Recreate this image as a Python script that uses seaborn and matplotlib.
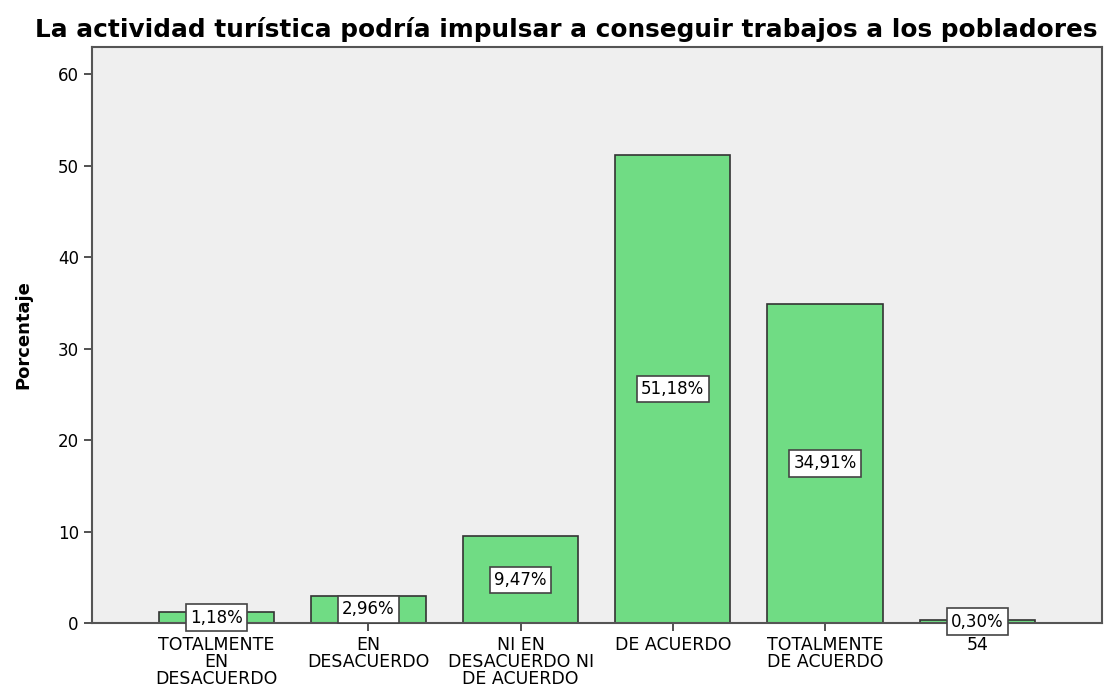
import pandas as pd
import matplotlib
matplotlib.use("Agg")
import matplotlib.pyplot as plt
import seaborn as sns

# Data
categorias = ["TOTALMENTE\nEN\nDESACUERDO", "EN\nDESACUERDO", "NI EN\nDESACUERDO NI\nDE ACUERDO",
              "DE ACUERDO", "TOTALMENTE\nDE ACUERDO", "54"]
porcentajes = [1.18, 2.96, 9.47, 51.18, 34.91, 0.30]
etiquetas = ["1,18%", "2,96%", "9,47%", "51,18%", "34,91%", "0,30%"]

df = pd.DataFrame({"cat": categorias, "pct": porcentajes})

sns.set_style("white")
plt.rcParams['font.family'] = ['DejaVu Sans']
plt.rcParams['text.color'] = 'black'
plt.rcParams['xtick.color'] = '#333333'
plt.rcParams['ytick.color'] = '#333333'
plt.rcParams['xtick.labelcolor'] = 'black'
plt.rcParams['ytick.labelcolor'] = 'black'

fig = plt.figure(figsize=(11.05, 6.86), dpi=100)
ax = fig.add_axes([92 / 1105, 1 - 623 / 686, (1102 - 92) / 1105, (623 - 47) / 686])
ax.set_facecolor("#efefef")

sns.barplot(data=df, x="cat", y="pct", color="#70dc84", saturation=1, width=0.757,
            edgecolor="#333333", linewidth=1.2, ax=ax)

# Boxed percentage labels at the middle of each bar
for i, (v, t) in enumerate(zip(porcentajes, etiquetas)):
    ax.text(i, v / 2, t, ha="center", va="center", fontsize=12, color="black",
            bbox=dict(boxstyle="square,pad=0.25", fc="white", ec="#444444", lw=1.2))

ax.set_xlim(-0.816, 5.82)
ax.set_ylim(0, 63)
ax.set_yticks([0, 10, 20, 30, 40, 50, 60])
ax.set_xlabel("")
ax.set_ylabel("Porcentaje", fontsize=13, fontweight="bold", labelpad=18, color="black")
fig.text(566 / 1105, 1 - 29 / 686,
         "La actividad turística podría impulsar a conseguir trabajos a los pobladores",
         ha="center", va="center", fontsize=17.8, fontweight="bold", color="black")

ax.tick_params(axis="both", direction="out", length=6, width=1.2,
               labelsize=12, bottom=True, left=True)
ax.tick_params(axis="x", pad=3)
for lbl in ax.get_xticklabels():
    lbl.set_fontsize(12.5)
    lbl.set_linespacing(0.95)
for s in ax.spines.values():
    s.set_color("#555555")
    s.set_linewidth(1.5)

fig.savefig("out.png", dpi=100)
